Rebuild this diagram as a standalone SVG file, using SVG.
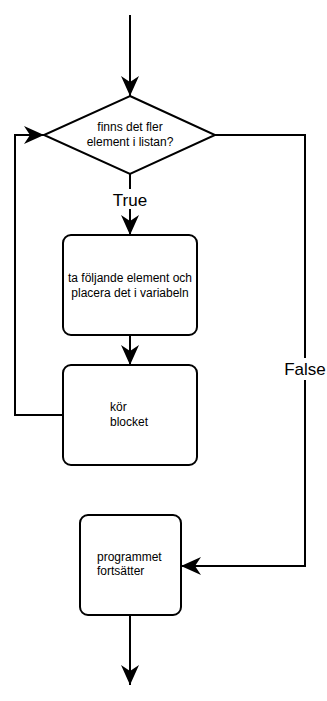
<svg xmlns="http://www.w3.org/2000/svg" width="327" height="701" viewBox="0 0 327 701">
<style>
.node{fill:#fff;stroke:#000;stroke-width:2}
.edge{fill:none;stroke:#000;stroke-width:2}
.t{font-family:"Liberation Sans",Arial,sans-serif;font-size:12px;fill:#000}
.lbl{font-family:"Liberation Sans",Arial,sans-serif;font-size:17px;fill:#000;text-anchor:middle}
</style>
<defs>
<marker id="ah" viewBox="0 0 20 18" refX="20" refY="9" markerWidth="20" markerHeight="18" markerUnits="userSpaceOnUse" orient="auto">
<path d="M20,9 L0,0 L6,9 L0,18 Z" fill="#000"/>
</marker>
</defs>
<rect width="327" height="701" fill="#fff"/>
<g id="connectors">
<path class="edge" d="M130,15 V96" marker-end="url(#ah)"/>
<path class="edge" d="M130,174 V235" marker-end="url(#ah)"/>
<path class="edge" d="M130,335 V365" marker-end="url(#ah)" stroke-width="3"/>
<path class="edge" d="M63,415 H15 V135 H44" marker-end="url(#ah)"/>
<path class="edge" d="M215,135 H305 V566 H181" marker-end="url(#ah)"/>
<path class="edge" d="M130,615 V685" marker-end="url(#ah)"/>
<rect x="110" y="189" width="40" height="20" fill="#fff"/>
<text class="lbl" x="130" y="206">True</text>
<rect x="283" y="358" width="44" height="22" fill="#fff"/>
<text class="lbl" x="305" y="375">False</text>
</g>
<g id="decision">
<polygon class="node" points="130,96 215,135 130,174 44,135"/>
<text class="t" x="130" y="131" text-anchor="middle">finns det fler</text>
<text class="t" x="130" y="146" text-anchor="middle">element i listan?</text>
</g>
<g id="take-element">
<rect class="node" x="63" y="235" width="134" height="100" rx="8"/>
<text class="t" x="130" y="282" text-anchor="middle">ta följande element och</text>
<text class="t" x="130" y="297" text-anchor="middle">placera det i variabeln</text>
</g>
<g id="run-block">
<rect class="node" x="63" y="365" width="134" height="100" rx="8"/>
<text class="t" x="110" y="411">kör</text>
<text class="t" x="110" y="426">blocket</text>
</g>
<g id="continue">
<rect class="node" x="80" y="515" width="101" height="100" rx="8"/>
<text class="t" x="97" y="561">programmet</text>
<text class="t" x="97" y="575">fortsätter</text>
</g>
</svg>
